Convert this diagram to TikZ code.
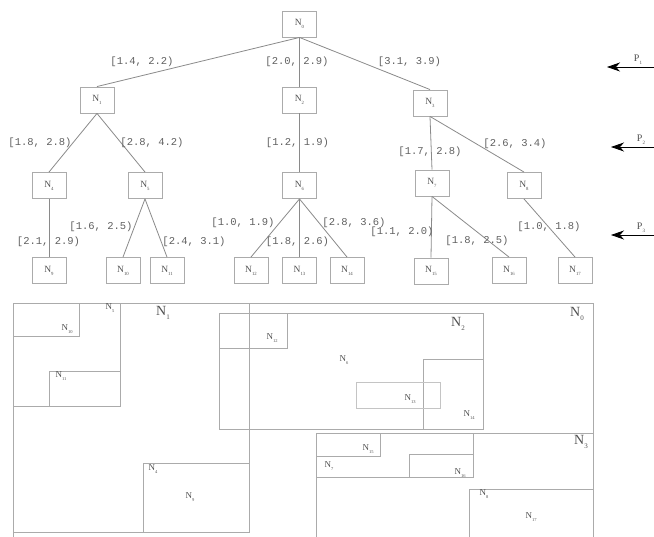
\documentclass[tikz,border=0pt]{standalone}
\usepackage{fontspec}
\setmainfont{Liberation Serif}
\setmonofont{Liberation Mono}
\usetikzlibrary{arrows.meta}
\definecolor{boxgray}{HTML}{ABABAB}
\definecolor{edgegray}{HTML}{8A8A8A}
\definecolor{txt}{HTML}{505050}
\definecolor{ivtxt}{HTML}{606060}
\newcommand\Nlab[2][N]{#1\raisebox{-0.3em}{\scalebox{0.5}{#2}}}
\begin{document}
\begin{tikzpicture}[x=1pt,y=-1pt,
  tn/.style={draw=boxgray, line width=0.9pt, minimum width=34pt, minimum height=26pt, inner sep=0pt, font=\fontsize{9.5}{9.5}\selectfont, text=txt},
  edge/.style={draw=edgegray, line width=0.8pt},
  iv/.style={font=\ttfamily\fontsize{10.5}{10.5}\selectfont, text=ivtxt, inner sep=0pt},
  reg/.style={draw=boxgray, line width=0.8pt},
  faint/.style={draw=boxgray!70, line width=0.7pt},
  big/.style={font=\fontsize{14}{14}\selectfont, text=txt, inner sep=0pt},
  small/.style={font=\fontsize{9}{9}\selectfont, text=txt, inner sep=0pt},
  plab/.style={font=\fontsize{10}{10}\selectfont, text=txt, inner sep=0pt},
  parrow/.style={-{Stealth[length=13pt,width=9pt,inset=4pt]}, line width=0.8pt, black},
]
\useasboundingbox (0,0) rectangle (654,537);
\clip (0,0) rectangle (654,537);

% ---------- tree ----------
\node[tn] (n0) at (299.5,24) {\Nlab{0}};
\node[tn] (n1) at (97,100) {\Nlab{1}};
\node[tn] (n2) at (299.5,100) {\Nlab{2}};
\node[tn] (n3) at (430,103) {\Nlab{3}};
\node[tn] (n4) at (49,185.5) {\Nlab{4}};
\node[tn] (n5) at (145,185.5) {\Nlab{5}};
\node[tn] (n6) at (299.5,185.5) {\Nlab{6}};
\node[tn] (n7) at (432,183) {\Nlab{7}};
\node[tn] (n8) at (524,185.5) {\Nlab{8}};
\node[tn] (n9) at (49,270.5) {\Nlab{9}};
\node[tn] (n10) at (123,270.5) {\Nlab{10}};
\node[tn] (n11) at (167,270.5) {\Nlab{11}};
\node[tn] (n12) at (251,270.5) {\Nlab{12}};
\node[tn] (n13) at (299.5,270.5) {\Nlab{13}};
\node[tn] (n14) at (347,270.5) {\Nlab{14}};
\node[tn] (n15) at (431,271) {\Nlab{15}};
\node[tn] (n16) at (509,270.5) {\Nlab{16}};
\node[tn] (n17) at (575,270.5) {\Nlab{17}};

\draw[edge] (n0.south) -- (n1.north);
\draw[edge] (n0.south) -- (n2.north);
\draw[edge] (n0.south) -- (n3.north);
\draw[edge] (n1.south) -- (n4.north);
\draw[edge] (n1.south) -- (n5.north);
\draw[edge] (n2.south) -- (n6.north);
\draw[edge] (n3.south) -- (n7.north);
\draw[edge] (n3.south) -- (n8.north);
\draw[edge] (n4.south) -- (n9.north);
\draw[edge] (n5.south) -- (n10.north);
\draw[edge] (n5.south) -- (n11.north);
\draw[edge] (n6.south) -- (n12.north);
\draw[edge] (n6.south) -- (n13.north);
\draw[edge] (n6.south) -- (n14.north);
\draw[edge] (n7.south) -- (n15.north);
\draw[edge] (n7.south) -- (n16.north);
\draw[edge] (n8.south) -- (n17.north);

\node[iv] (l1) at (142,62) {[1.4, 2.2)};
\node[iv] (l2) at (297,62) {[2.0, 2.9)};
\node[iv] (l3) at (409.5,62) {[3.1, 3.9)};
\node[iv] (l4) at (40,143) {[1.8, 2.8)};
\node[iv] (l5) at (152,143) {[2.8, 4.2)};
\node[iv] (l6) at (297.5,143) {[1.2, 1.9)};
\node[iv] (l7) at (430,152) {[1.7, 2.8)};
\node[iv] (l8) at (515,144) {[2.6, 3.4)};
\node[iv] (l9) at (48.5,242) {[2.1, 2.9)};
\node[iv] (l10) at (101,227) {[1.6, 2.5)};
\node[iv] (l11) at (194,242) {[2.4, 3.1)};
\node[iv] (l12) at (243,223) {[1.0, 1.9)};
\node[iv] (l13) at (297.5,242) {[1.8, 2.6)};
\node[iv] (l14) at (354,223) {[2.8, 3.6)};
\node[iv] (l15) at (402,232) {[1.1, 2.0)};
\node[iv] (l16) at (477,241) {[1.8, 2.5)};
\node[iv] (l17) at (549,227) {[1.0, 1.8)};

% ---------- level arrows ----------
\coordinate (a1s) at (654,67);  \coordinate (a1e) at (607,67);
\coordinate (a2s) at (654,147); \coordinate (a2e) at (611,147);
\coordinate (a3s) at (654,235); \coordinate (a3e) at (611,235);
\draw[parrow] (a1s) -- (a1e);
\draw[parrow] (a2s) -- (a2e);
\draw[parrow] (a3s) -- (a3e);
\node[plab] (p1) at (638,60) {\Nlab[P]{1}};
\node[plab] (p2) at (641,140) {\Nlab[P]{2}};
\node[plab] (p3) at (641,228) {\Nlab[P]{3}};

% ---------- region diagram ----------
\draw[reg] (13,545) -- (13,303) -- (593,303) -- (593,545);
\draw[reg] (13,303) rectangle (249,532);
\draw[reg] (13,303) rectangle (120,406);
\draw[reg] (13,303) rectangle (79,336);
\draw[reg] (49,371) rectangle (120,406);
\draw[reg] (143,463) rectangle (249,532);
\draw[reg] (219,313) rectangle (483,429);
\draw[reg] (219,313) rectangle (287,348);
\draw[reg] (423,359) rectangle (483,429);
\draw[faint] (356,382) rectangle (440,408);
\draw[reg] (316,545) -- (316,433) -- (593,433);
\draw[reg] (316,433) rectangle (473,477);
\draw[reg] (316,433) rectangle (380,456);
\draw[reg] (409,454) rectangle (473,477);
\draw[reg] (469,545) -- (469,489) -- (593,489);

\node[big] (r0) at (577,314) {\Nlab{0}};
\node[big] (r1) at (163,313) {\Nlab{1}};
\node[big] (r2) at (458,324) {\Nlab{2}};
\node[big] (r3) at (581,442) {\Nlab{3}};
\node[small] (r4) at (153,469) {\Nlab{4}};
\node[small] (r5) at (110,308) {\Nlab{5}};
\node[small] (r6) at (344,360) {\Nlab{6}};
\node[small] (r7) at (329,466) {\Nlab{7}};
\node[small] (r8) at (484,494) {\Nlab{8}};
\node[small] (r9) at (190,497) {\Nlab{9}};
\node[small] (r10) at (67,329) {\Nlab{10}};
\node[small] (r11) at (61,376) {\Nlab{11}};
\node[small] (r12) at (272,338) {\Nlab{12}};
\node[small] (r13) at (410,399) {\Nlab{13}};
\node[small] (r14) at (469,415) {\Nlab{14}};
\node[small] (r15) at (368,449) {\Nlab{15}};
\node[small] (r16) at (460,473) {\Nlab{16}};
\node[small] (r17) at (531,517) {\Nlab{17}};
\end{tikzpicture}
\end{document}
